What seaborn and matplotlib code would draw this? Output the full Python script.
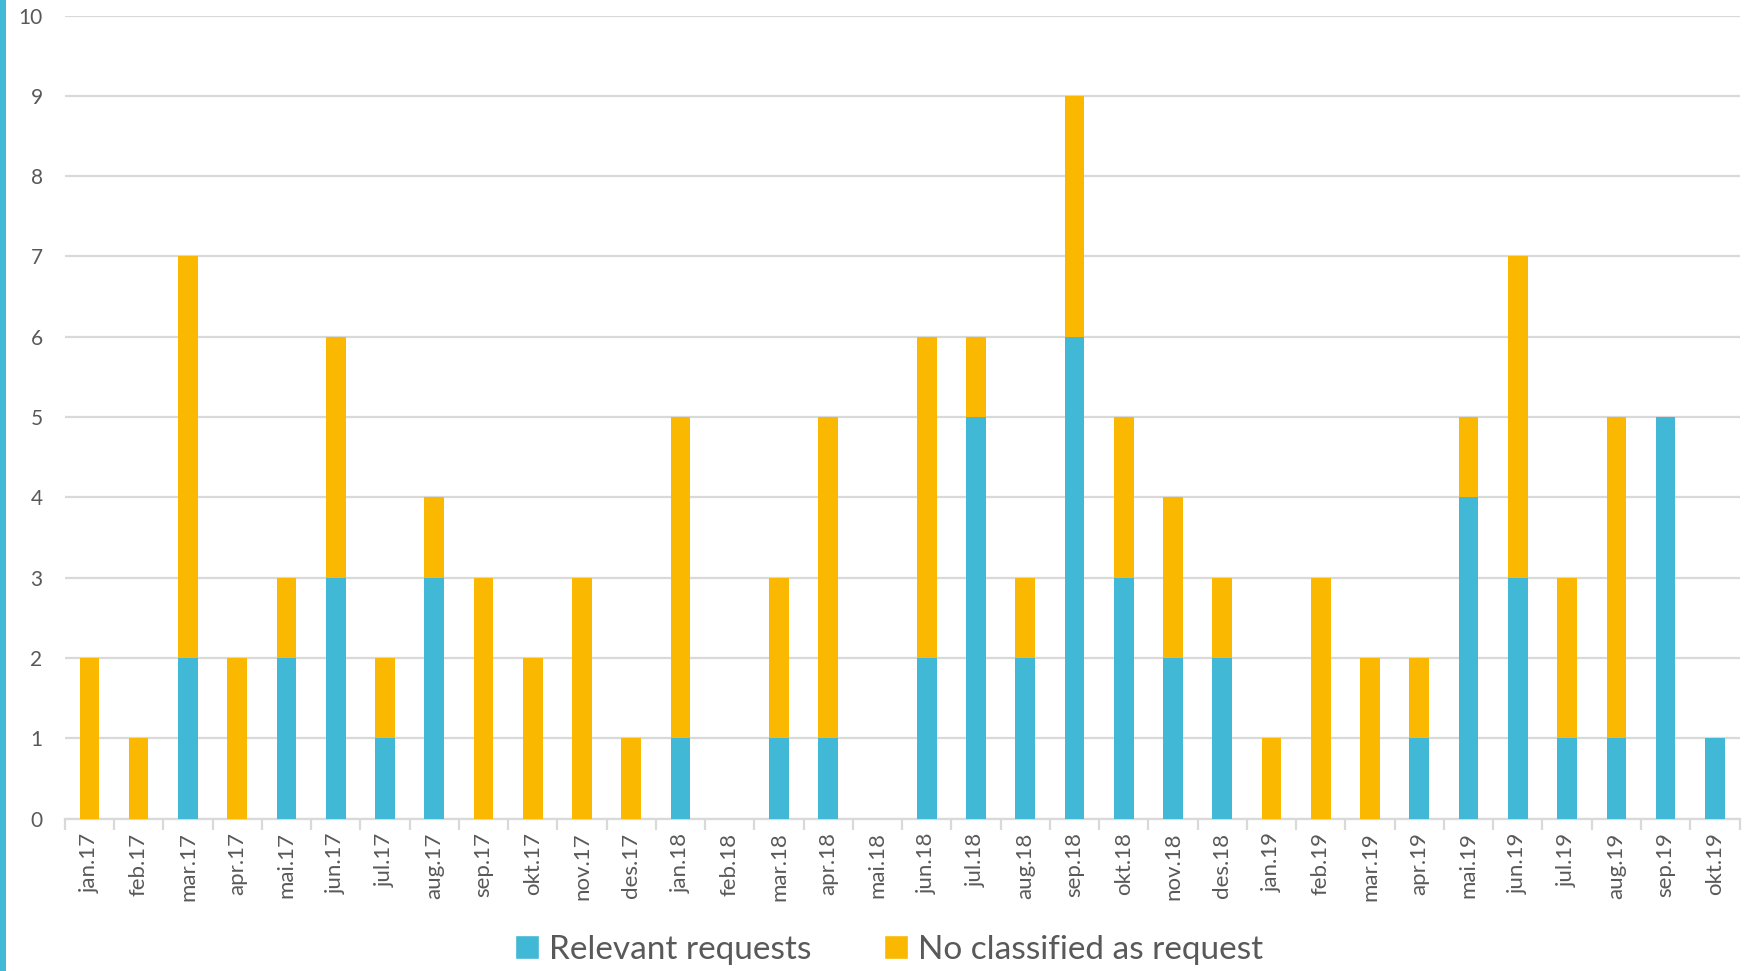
import numpy as np
import pandas as pd
import matplotlib
matplotlib.use("Agg")
import matplotlib.pyplot as plt
import seaborn as sns
from matplotlib.patches import Patch, Rectangle
from matplotlib.ticker import MultipleLocator, FixedLocator

months = ["jan.17", "feb.17", "mar.17", "apr.17", "mai.17", "jun.17", "jul.17", "aug.17",
          "sep.17", "okt.17", "nov.17", "des.17", "jan.18", "feb.18", "mar.18", "apr.18",
          "mai.18", "jun.18", "jul.18", "aug.18", "sep.18", "okt.18", "nov.18", "des.18",
          "jan.19", "feb.19", "mar.19", "apr.19", "mai.19", "jun.19", "jul.19", "aug.19",
          "sep.19", "okt.19"]
relevant = [0, 0, 2, 0, 2, 3, 1, 3, 0, 0, 0, 0, 1, 0, 1, 1, 0, 2, 5, 2, 6, 3, 2, 2,
            0, 0, 0, 1, 4, 3, 1, 1, 5, 1]
not_classified = [2, 1, 5, 2, 1, 3, 1, 1, 3, 2, 3, 1, 4, 0, 2, 4, 0, 4, 1, 1, 3, 2, 2, 1,
                  1, 3, 2, 1, 1, 4, 2, 4, 0, 0]

label_rel = "Relevant requests"
label_not = "No classified as request"

BLUE = "#41B8D5"
YELLOW = "#FBB800"
GRID = "#D9D9D9"
TEXT = "#595959"

df = pd.DataFrame({"month": months, "relevant": relevant, "not_classified": not_classified})
df["total"] = df["relevant"] + df["not_classified"]

sns.set_theme(style="white")
plt.rcParams["font.family"] = ["Lato", "DejaVu Sans"]

fig = plt.figure(figsize=(17.5, 9.71), dpi=100)
ax = fig.add_axes([0.037, 0.157, 0.957, 0.827])

# stacked bars: total in yellow, relevant part drawn over it in blue
sns.barplot(data=df, x="month", y="total", color=YELLOW, width=0.4, saturation=1,
            ax=ax, zorder=2, linewidth=0)
sns.barplot(data=df, x="month", y="relevant", color=BLUE, width=0.4, saturation=1,
            ax=ax, zorder=3, linewidth=0)

ax.set_xlim(-0.5, len(months) - 0.5)
ax.set_ylim(0, 10)
ax.yaxis.set_major_locator(MultipleLocator(1))
ax.grid(axis="y", color=GRID, linewidth=1.6, zorder=0)
ax.set_axisbelow(True)
ax.set_xlabel("")
ax.set_ylabel("")

for side in ["top", "right", "left"]:
    ax.spines[side].set_visible(False)
ax.spines["bottom"].set_color(GRID)
ax.spines["bottom"].set_linewidth(1.6)
ax.spines["bottom"].set_zorder(1)

ax.tick_params(axis="x", which="major", length=0, pad=10, labelsize=16, labelcolor=TEXT,
               labelrotation=90)
ax.xaxis.set_minor_locator(FixedLocator(np.arange(-0.5, len(months), 1.0)))
ax.tick_params(axis="x", which="minor", length=8, width=1.6, color=GRID, bottom=True)
ax.tick_params(axis="y", length=0, pad=16, labelsize=15, labelcolor=TEXT)

handles = [Patch(facecolor=BLUE, label=label_rel), Patch(facecolor=YELLOW, label=label_not)]
fig.legend(handles=handles, loc="center", bbox_to_anchor=(0.508, 0.022), ncol=2,
           frameon=False, fontsize=24, labelcolor=TEXT, handlelength=0.7, handleheight=0.7,
           handletextpad=0.3, columnspacing=2.2)

# accent strip along the left edge
fig.patches.append(Rectangle((0, 0), 6 / 1750, 1, transform=fig.transFigure,
                             facecolor=BLUE, edgecolor="none"))

fig.savefig("out.png", dpi=100, facecolor="white")
